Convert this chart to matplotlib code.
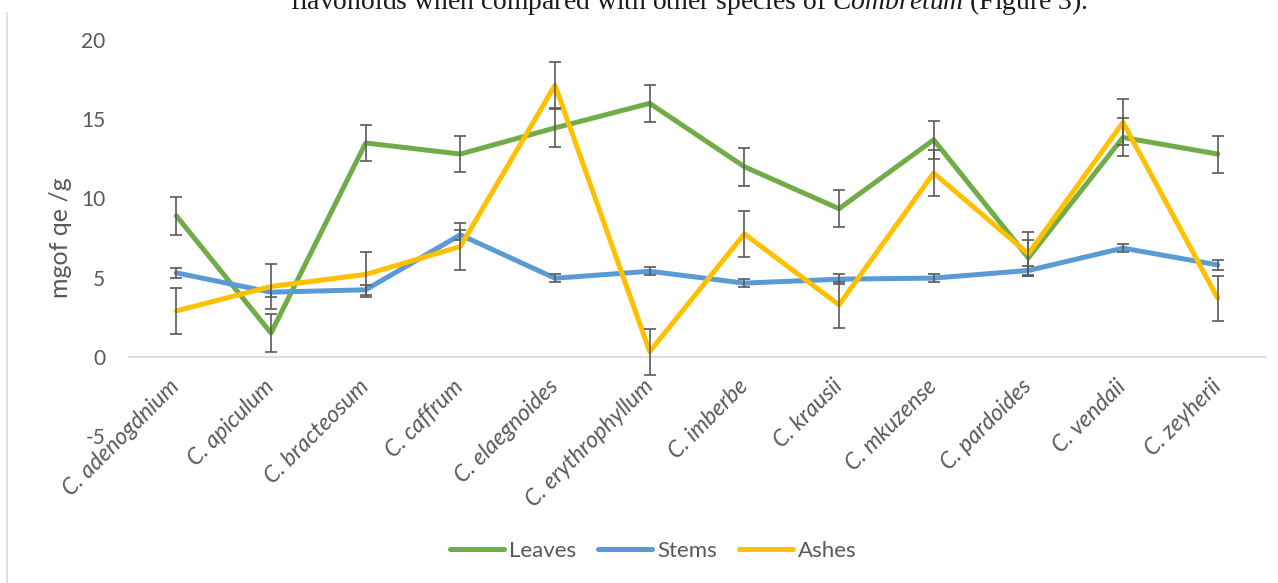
import matplotlib
matplotlib.use("Agg")
import matplotlib.pyplot as plt
from matplotlib.lines import Line2D
import numpy as np

plt.rcParams['font.family'] = ['Lato', 'DejaVu Sans']
plt.rcParams['axes.unicode_minus'] = False
plt.rcParams['mathtext.fontset'] = 'custom'
plt.rcParams['mathtext.rm'] = 'Liberation Serif'
plt.rcParams['mathtext.it'] = 'Liberation Serif:italic'

# Total flavonoid content per Combretum species (mg QE / g)
species = ["C. adenogdnium", "C. apiculum", "C. bracteosum", "C. caffrum",
           "C. elaegnoides", "C. erythrophyllum", "C. imberbe", "C. krausii",
           "C. mkuzense", "C. pardoides", "C. vendaii", "C. zeyherii"]
leaves = [8.9, 1.5, 13.5, 12.8, 14.45, 16.0, 12.0, 9.35, 13.7, 6.25, 13.85, 12.8]
leaves_err = [1.2, 1.2, 1.15, 1.15, 1.2, 1.18, 1.2, 1.15, 1.2, 1.15, 1.2, 1.17]
stems = [5.3, 4.08, 4.23, 7.7, 4.96, 5.4, 4.65, 4.9, 4.97, 5.45, 6.86, 5.8]
stems_err = [0.3, 0.3, 0.3, 0.3, 0.25, 0.25, 0.25, 0.3, 0.25, 0.3, 0.25, 0.3]
ashes = [2.9, 4.44, 5.2, 6.96, 17.15, 0.33, 7.76, 3.28, 11.6, 6.5, 14.8, 3.7]
ashes_err = [1.44, 1.43, 1.4, 1.5, 1.45, 1.45, 1.45, 1.45, 1.45, 1.4, 1.45, 1.43]
series_names = ["Leaves", "Stems", "Ashes"]
y_ticks = [-5, 0, 5, 10, 15, 20]

colors = ["#70AD47", "#5B9BD5", "#FFC000"]
text_gray = "#595959"
W, H = 1278, 583

fig = plt.figure(figsize=(W / 100, H / 100), dpi=100)
ax = fig.add_axes([129 / W, 1 - 436 / H, (1265 - 129) / W, (436 - 40) / H])

x = np.arange(len(species))
for i, (vals, errs, col) in enumerate(zip([leaves, stems, ashes],
                                         [leaves_err, stems_err, ashes_err], colors)):
    z = 2 + i
    ax.plot(x, vals, color=col, lw=3.6, solid_joinstyle='round',
            solid_capstyle='round', zorder=z)
    ax.errorbar(x, vals, yerr=errs, fmt='none', ecolor=text_gray, elinewidth=1.2,
                capsize=4.3, capthick=1.2, zorder=z + 0.5)

ax.set_xlim(-0.5, len(species) - 0.5)
ax.set_ylim(-5, 20)
ax.set_yticks(y_ticks)
for s in ['top', 'right', 'left']:
    ax.spines[s].set_visible(False)
ax.spines['bottom'].set_position(('data', 0))
ax.spines['bottom'].set_color('#D9D9D9')
ax.spines['bottom'].set_linewidth(1.3)
ax.spines['bottom'].set_zorder(1)

ax.tick_params(axis='y', length=0, pad=17, labelsize=15, labelcolor=text_gray)
ax.tick_params(axis='x', length=0, pad=19, labelsize=16.5, labelcolor=text_gray)
ax.set_xticks(x)
ax.set_xticklabels(species, rotation=45, ha='right', va='center',
                   rotation_mode='anchor', fontstyle='italic')

ax.set_ylabel("mgof qe /g", fontsize=18, color=text_gray)
ax.yaxis.set_label_coords((72 - 129) / (1265 - 129), 0.5)

# chart-area border on the left
fig.add_artist(Line2D([7 / W, 7 / W], [0, 1 - 13 / H], color='#D9D9D9', lw=1.2))

handles = [Line2D([], [], color=c, lw=3.6, solid_capstyle='round') for c in colors]
fig.legend(handles, series_names, loc='center', bbox_to_anchor=(653 / W, 1 - 551 / H),
           ncol=3, frameon=False, fontsize=16, handlelength=2.45, handletextpad=0.2,
           columnspacing=1.0, labelcolor=text_gray)

# running text of the surrounding page, cut by the figure's top edge
caption = fig.text(290 / W, 1 - 9 / H,
                   r"flavonoids when compared with other species of $\mathit{Combretum}$ (Figure 3).",
                   family='Liberation Serif', fontsize=19, color='#1a1a1a',
                   ha='left', va='baseline')
fig.canvas.draw()
width = caption.get_window_extent(fig.canvas.get_renderer()).width
caption.set_fontsize(19 * (1087 - 290) / width)

fig.savefig("out.png", dpi=100)
